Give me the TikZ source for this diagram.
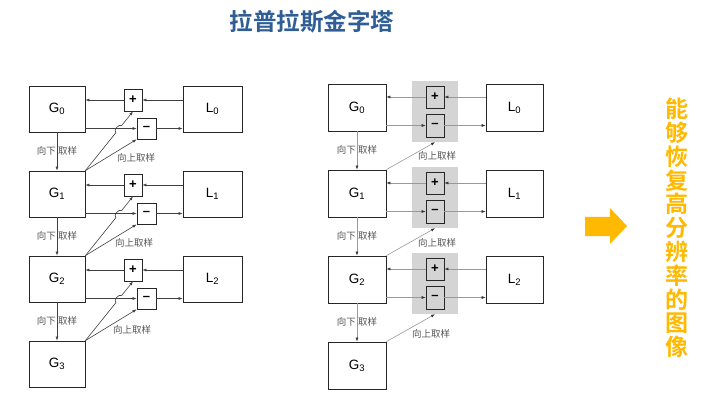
\documentclass[tikz,border=0pt]{standalone}
\usepackage{fontspec}
\setmainfont{Liberation Sans}
\newfontfamily\cjk{Noto Sans CJK SC}[BoldFont={Noto Sans CJK SC Bold}]
\usetikzlibrary{arrows.meta,calc}
\definecolor{titleblue}{HTML}{2F5D95}
\definecolor{gold}{HTML}{FFB900}
\definecolor{panel}{HTML}{D4D4D4}
\definecolor{linegray}{HTML}{999999}
\definecolor{lblgray}{HTML}{555555}

\begin{document}
\begin{tikzpicture}[x=1pt, y=-1pt,
    gbox/.style={draw=black!85, line width=0.8pt, minimum width=56pt, minimum height=46pt, inner sep=0pt, font=\fontsize{13.5}{15}\selectfont},
    opbox/.style={draw=black!85, line width=0.8pt, minimum width=18pt, minimum height=22pt, inner sep=0pt, font=\bfseries\fontsize{13}{14}\selectfont},
    panelbox/.style={fill=panel, minimum width=46pt, minimum height=61pt, inner sep=0pt},
    lbl/.style={text=lblgray, font=\cjk\fontsize{9.5}{11}\selectfont, inner sep=0pt},
    arr/.style={draw=black!75, line width=0.6pt, -{Latex[length=4pt,width=3pt]}},
    arrg/.style={draw=linegray, line width=0.6pt, -{Latex[length=4pt,width=3pt,color=black!80]}}]

    \path[fill=white] (0,0) rectangle (712,406);
    \useasboundingbox (0,0) rectangle (712,406);

    \node (title) at (312,22) [font=\cjk\bfseries\fontsize{23.5}{25}\selectfont, text=titleblue] {拉普拉斯金字塔};

    % left pyramid
    \node (ga0) at (57,109) [gbox] {G\textsubscript{0}};
    \node (ga1) at (57,194) [gbox] {G\textsubscript{1}};
    \node (ga2) at (57,279) [gbox] {G\textsubscript{2}};
    \node (ga3) at (57,364) [gbox] {G\textsubscript{3}};
    \node (la0) at (212.5,109) [gbox, minimum width=59pt] {L\textsubscript{0}};
    \node (la1) at (212.5,194) [gbox, minimum width=59pt] {L\textsubscript{1}};
    \node (la2) at (212.5,279) [gbox, minimum width=59pt] {L\textsubscript{2}};
    \node (pa0) at (133,100) [opbox] {+};
    \node (pa1) at (133,185) [opbox] {+};
    \node (pa2) at (133,270) [opbox] {+};
    \node (ma0) at (146.5,128.5) [opbox, minimum width=19pt, minimum height=21pt] {--};
    \node (ma1) at (146.5,213.5) [opbox, minimum width=19pt, minimum height=21pt] {--};
    \node (ma2) at (146.5,298.5) [opbox, minimum width=19pt, minimum height=21pt] {--};

    \draw[arr] (la0.west |- pa0) -- (pa0);
    \draw[arr] (pa0) -- (pa0 -| ga0.east);
    \draw[arr] (ga0.east |- ma0) -- (ma0);
    \draw[arr] (ma0) -- (ma0 -| la0.west);
    \draw[arr] (la1.west |- pa1) -- (pa1);
    \draw[arr] (pa1) -- (pa1 -| ga1.east);
    \draw[arr] (ga1.east |- ma1) -- (ma1);
    \draw[arr] (ma1) -- (ma1 -| la1.west);
    \draw[arr] (la2.west |- pa2) -- (pa2);
    \draw[arr] (pa2) -- (pa2 -| ga2.east);
    \draw[arr] (ga2.east |- ma2) -- (ma2);
    \draw[arr] (ma2) -- (ma2 -| la2.west);

    \draw[arr] (ga0) -- (ga1);
    \draw[arr] (ga1) -- (ga2);
    \draw[arr] (ga2) -- (ga3);
    \node (da0) at (57,151) [lbl] {向下\ 取样};
    \node (da1) at (57,236) [lbl] {向下\ 取样};
    \node (da2) at (57,321) [lbl] {向下\ 取样};

    \draw[arr] (ga1.north east) -- ($(ga1.north east)!0.64!(pa0.south)$) to[bend left=90] ($(ga1.north east)!0.76!(pa0.south)$) -- (pa0.south);
    \draw[arr] (ga2.north east) -- ($(ga2.north east)!0.64!(pa1.south)$) to[bend left=90] ($(ga2.north east)!0.76!(pa1.south)$) -- (pa1.south);
    \draw[arr] (ga3.north east) -- ($(ga3.north east)!0.64!(pa2.south)$) to[bend left=90] ($(ga3.north east)!0.76!(pa2.south)$) -- (pa2.south);
    \draw[arr] (ga1.north east) -- (ma0.south west);
    \draw[arr] (ga2.north east) -- (ma1.south west);
    \draw[arr] (ga3.north east) -- (ma2.south west);
    \node (ua0) at (136,158) [lbl] {向上取样};
    \node (ua1) at (134,243) [lbl] {向上取样};
    \node (ua2) at (132,330) [lbl] {向上取样};

    % right pyramid
    \node (qb0) at (435,111.5) [panelbox] {};
    \node (qb1) at (435,197.5) [panelbox] {};
    \node (qb2) at (435,283.5) [panelbox] {};
    \node (gb0) at (357,107.5) [gbox, minimum width=58pt, minimum height=47pt] {G\textsubscript{0}};
    \node (gb1) at (357,193.5) [gbox, minimum width=58pt, minimum height=47pt] {G\textsubscript{1}};
    \node (gb2) at (357,279.5) [gbox, minimum width=58pt, minimum height=47pt] {G\textsubscript{2}};
    \node (gb3) at (357,365.5) [gbox, minimum width=58pt, minimum height=47pt] {G\textsubscript{3}};
    \node (lb0) at (514.5,107.5) [gbox, minimum width=57pt, minimum height=47pt] {L\textsubscript{0}};
    \node (lb1) at (514.5,193.5) [gbox, minimum width=57pt, minimum height=47pt] {L\textsubscript{1}};
    \node (lb2) at (514.5,279.5) [gbox, minimum width=57pt, minimum height=47pt] {L\textsubscript{2}};
    \node (pb0) at (435,97) [opbox] {+};
    \node (pb1) at (435,183) [opbox] {+};
    \node (pb2) at (435,269) [opbox] {+};
    \node (mb0) at (435,125.5) [opbox, minimum height=23pt] {--};
    \node (mb1) at (435,211.5) [opbox, minimum height=23pt] {--};
    \node (mb2) at (435,297.5) [opbox, minimum height=23pt] {--};

    \draw[arrg] (lb0.west |- pb0) -- (pb0);
    \draw[arrg] (pb0) -- (pb0 -| gb0.east);
    \draw[arrg] (gb0.east |- mb0) -- (mb0);
    \draw[arrg] (mb0) -- (mb0 -| lb0.west);
    \draw[arrg] (lb1.west |- pb1) -- (pb1);
    \draw[arrg] (pb1) -- (pb1 -| gb1.east);
    \draw[arrg] (gb1.east |- mb1) -- (mb1);
    \draw[arrg] (mb1) -- (mb1 -| lb1.west);
    \draw[arrg] (lb2.west |- pb2) -- (pb2);
    \draw[arrg] (pb2) -- (pb2 -| gb2.east);
    \draw[arrg] (gb2.east |- mb2) -- (mb2);
    \draw[arrg] (mb2) -- (mb2 -| lb2.west);

    \draw[arrg] (gb0) -- (gb1);
    \draw[arrg] (gb1) -- (gb2);
    \draw[arrg] (gb2) -- (gb3);
    \node (db0) at (357,150) [lbl] {向下\ 取样};
    \node (db1) at (357,236) [lbl] {向下\ 取样};
    \node (db2) at (357,322) [lbl] {向下\ 取样};

    \draw[arrg] (gb1.north east) -- (qb0.south);
    \draw[arrg] (gb2.north east) -- (qb1.south);
    \draw[arrg] (gb3.north east) -- (qb2.south);
    \node (ub0) at (437,156) [lbl] {向上取样};
    \node (ub1) at (437,243) [lbl] {向上取样};
    \node (ub2) at (431,334) [lbl] {向上取样};

    % result
    \fill[gold] (585,217) -- (610,217) -- (610,208) -- (627,226) -- (610,244) -- (610,236) -- (585,236) -- cycle;
    \node (note) at (677,228) [align=center, text=gold, font=\cjk\bfseries\fontsize{23}{23.8}\selectfont] {能\\够\\恢\\复\\高\\分\\辨\\率\\的\\图\\像};
\end{tikzpicture}
\end{document}
